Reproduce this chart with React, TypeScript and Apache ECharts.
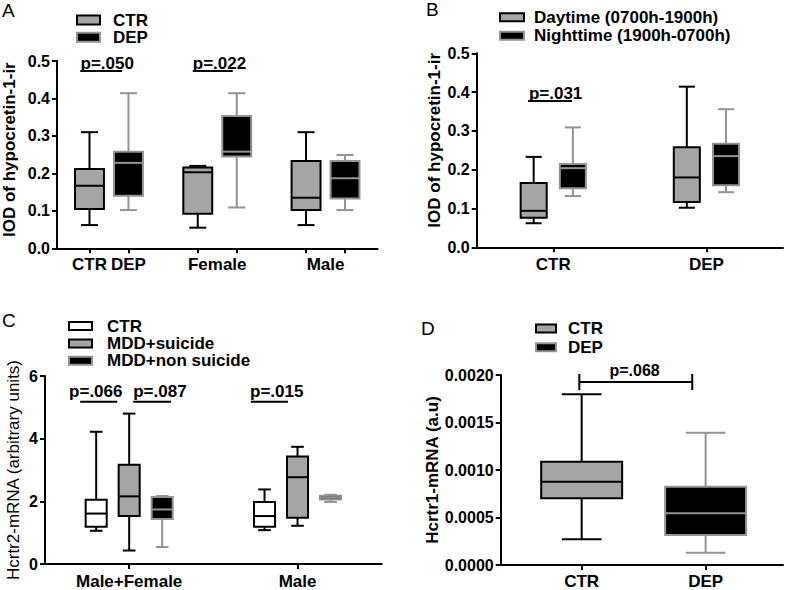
import React, { useEffect, useRef } from 'react';
import * as echarts from 'echarts';

const FONT = '"Liberation Sans", Arial, Helvetica, sans-serif';
const GRAY = '#a5a5a5';
const GRAY_LINE = '#939393';
const BLACK = '#000000';
const WHITE = '#ffffff';

// ---------- Panel A ----------
const aGroupPos = [1, 2, 3];
const aAxisLabels = ['CTR', 'DEP', 'Female', 'Male'];
// [min, Q1, median, Q3, max]
const aCtr = [
  [0.062, 0.105, 0.167, 0.212, 0.31],
  [0.055, 0.092, 0.203, 0.216, 0.22],
  [0.062, 0.102, 0.135, 0.233, 0.31],
];
const aDep = [
  [0.102, 0.14, 0.228, 0.258, 0.414],
  [0.109, 0.245, 0.258, 0.353, 0.414],
  [0.102, 0.133, 0.187, 0.233, 0.249],
];
// [x1, x2, y, textX, textY]
const aSig = [
  [0.735, 1.122, 0.473, 0.737, 0.492],
  [1.774, 2.143, 0.473, 1.774, 0.492],
];
const aSigText = ['p=.050', 'p=.022'];

// ---------- Panel B ----------
const bCategories = ['CTR', 'DEP'];
const bDay = [
  [0.062, 0.076, 0.094, 0.166, 0.233],
  [0.102, 0.117, 0.18, 0.258, 0.414],
];
const bNight = [
  [0.132, 0.152, 0.204, 0.215, 0.309],
  [0.142, 0.16, 0.235, 0.267, 0.356],
];
const bSig = [[0.835, 1.122, 0.377, 0.841, 0.396]];
const bSigText = ['p=.031'];

// ---------- Panel C ----------
const cCategories = ['Male+Female', 'Male'];
const cCtr = [
  [1.06, 1.19, 1.61, 2.05, 4.22],
  [1.08, 1.19, 1.53, 1.98, 2.38],
];
const cSuicide = [
  [0.43, 1.53, 2.16, 3.17, 4.8],
  [1.22, 1.48, 2.77, 3.43, 3.74],
];
const cNonSuicide = [
  [0.54, 1.44, 1.74, 2.14, 2.17],
  [1.98, 2.06, 2.12, 2.18, 2.21],
];
const cSig = [
  [0.709, 0.929, 5.18, 0.643, 5.5],
  [1.024, 1.249, 5.18, 1.024, 5.5],
  [1.723, 1.943, 5.18, 1.718, 5.5],
];
const cSigText = ['p=.066', 'p=.087', 'p=.015'];

// ---------- Panel D ----------
const dCategories = ['CTR', 'DEP'];
const dCtr = [0.000271, 0.000702, 0.000877, 0.001087, 0.001797];
const dDep = [0.000129, 0.000316, 0.000544, 0.000824, 0.001393];
const dSig = [[0.981, 1.892, 0.001926, 1.427, 0.002045]];
const dSigText = ['p=.068'];

const labelText = (positions: number[], texts: string[]) => (v: number) => {
  let best = 0;
  let bd = Infinity;
  positions.forEach((p, i) => {
    const d = Math.abs(p - v);
    if (d < bd) {
      bd = d;
      best = i;
    }
  });
  return bd < 1e-3 ? texts[best] : '';
};

const axisLine = { show: true, onZero: false, lineStyle: { color: BLACK, width: 2 } };
const tickStyle = { show: true, length: 5, lineStyle: { color: BLACK, width: 2 } };
const labelBase = { color: BLACK, fontSize: 16, fontWeight: 'bold', fontFamily: FONT };

function xAxis(gridIndex: number, min: number, max: number, tickVals: number[], labelVals: number[], texts: string[], margin: number) {
  return {
    type: 'value',
    gridIndex,
    min,
    max,
    splitLine: { show: false },
    axisLine,
    axisTick: { ...tickStyle, customValues: tickVals },
    axisLabel: { ...labelBase, fontSize: 17, margin, customValues: labelVals, formatter: labelText(labelVals, texts) },
  };
}

function yAxis(gridIndex: number, max: number, interval: number, decimals: number, name: string, nameGap: number, nameFont: any) {
  return {
    type: 'value',
    gridIndex,
    min: 0,
    max,
    interval,
    splitLine: { show: false },
    axisLine,
    axisTick: tickStyle,
    axisLabel: { ...labelBase, margin: 7, formatter: (v: number) => v.toFixed(decimals) },
    name,
    nameLocation: 'middle',
    nameGap,
    nameTextStyle: { color: BLACK, fontFamily: FONT, ...nameFont },
  };
}

function boxRender(boxW: number, capW: number, fill: string, stroke: string) {
  return (_params: any, api: any) => {
    const x = api.value(0);
    const c = (v: number) => api.coord([x, v]);
    const pMin = c(api.value(1));
    const pQ1 = c(api.value(2));
    const pMed = c(api.value(3));
    const pQ3 = c(api.value(4));
    const pMax = c(api.value(5));
    const cx = pMed[0];
    const bw = api.size([boxW, 0])[0];
    const cw = api.size([capW, 0])[0];
    const ls = { stroke, lineWidth: 2, fill: 'none' };
    return {
      type: 'group',
      children: [
        { type: 'line', shape: { x1: cx, y1: pMax[1], x2: cx, y2: pQ3[1] }, style: ls },
        { type: 'line', shape: { x1: cx, y1: pQ1[1], x2: cx, y2: pMin[1] }, style: ls },
        { type: 'line', shape: { x1: cx - cw / 2, y1: pMax[1], x2: cx + cw / 2, y2: pMax[1] }, style: ls },
        { type: 'line', shape: { x1: cx - cw / 2, y1: pMin[1], x2: cx + cw / 2, y2: pMin[1] }, style: ls },
        {
          type: 'rect',
          shape: { x: cx - bw / 2, y: pQ3[1], width: bw, height: pQ1[1] - pQ3[1] },
          style: { fill, stroke, lineWidth: 2 },
        },
        { type: 'line', shape: { x1: cx - bw / 2, y1: pMed[1], x2: cx + bw / 2, y2: pMed[1] }, style: ls },
      ],
    };
  };
}

function boxSeries(name: string, idx: number, data: number[][], positions: number[], boxW: number, capW: number, fill: string, stroke: string) {
  return {
    type: 'custom',
    name,
    xAxisIndex: idx,
    yAxisIndex: idx,
    encode: { x: 0, y: [1, 2, 3, 4, 5] },
    data: data.map((v, i) => [positions[i], ...v]),
    renderItem: boxRender(boxW, capW, fill, stroke),
    silent: true,
  };
}

function sigSeries(id: string, idx: number, data: number[][], texts: string[], align: string, fontSize: number, bracket: boolean) {
  return {
    type: 'custom',
    id,
    xAxisIndex: idx,
    yAxisIndex: idx,
    encode: { x: [0, 1, 3], y: [2, 4] },
    data,
    silent: true,
    renderItem: (params: any, api: any) => {
      const p1 = api.coord([api.value(0), api.value(2)]);
      const p2 = api.coord([api.value(1), api.value(2)]);
      const pt = api.coord([api.value(3), api.value(4)]);
      const ls = { stroke: BLACK, lineWidth: 2 };
      const children: any[] = [
        { type: 'line', shape: { x1: p1[0], y1: p1[1], x2: p2[0], y2: p2[1] }, style: ls },
        {
          type: 'text',
          x: pt[0],
          y: pt[1],
          style: {
            text: texts[params.dataIndex],
            fill: BLACK,
            fontSize,
            fontWeight: 'bold',
            fontFamily: FONT,
            align,
            verticalAlign: 'middle',
          },
        },
      ];
      if (bracket) {
        children.push(
          { type: 'line', shape: { x1: p1[0], y1: p1[1] - 8, x2: p1[0], y2: p1[1] + 8 }, style: ls },
          { type: 'line', shape: { x1: p2[0], y1: p2[1] - 8, x2: p2[0], y2: p2[1] + 8 }, style: ls }
        );
      }
      return { type: 'group', children };
    },
  };
}

function legend(left: number, top: number, itemWidth: number, itemHeight: number, lineHeight: number, gap: number, textPad: number, items: { name: string; fill: string; stroke: string }[]) {
  return {
    orient: 'vertical',
    left,
    top,
    padding: 0,
    itemWidth,
    itemHeight,
    itemGap: gap,
    icon: 'rect',
    selectedMode: false,
    textStyle: { color: BLACK, fontSize: 17, fontWeight: 'bold', fontFamily: FONT, lineHeight, padding: [0, 0, 0, textPad] },
    data: items.map((it) => ({ name: it.name, itemStyle: { color: it.fill, borderColor: it.stroke, borderWidth: 2 } })),
  };
}

const letter = (text: string, left: number, top: number) => ({
  text,
  left,
  top,
  padding: 0,
  textStyle: { fontSize: 19, fontWeight: 'normal', fontFamily: FONT, color: BLACK },
});

export default function App() {
  const ref = useRef<HTMLDivElement>(null);

  useEffect(() => {
    if (!ref.current) return;
    const chart = echarts.init(ref.current, undefined, { renderer: 'svg' });

    const aOff = 0.18;
    const aCtrPos = aGroupPos.map((g) => g - aOff);
    const aDepPos = aGroupPos.map((g) => g + aOff);
    const aTicks = [...aCtrPos, ...aDepPos].sort((p, q) => p - q);
    const aLabelPos = [aCtrPos[0], aDepPos[0], aGroupPos[1], aGroupPos[2]];

    const bPos = bCategories.map((_, i) => i + 1);
    const bOff = 0.128;
    const cPos = cCategories.map((_, i) => i + 1);
    const cOff = 0.196;
    const dPos = dCategories.map((_, i) => i + 1);

    const titleA = { fontSize: 17, fontWeight: 'bold', padding: [0, 0, 0, 10] };
    const titleB = { fontSize: 17, fontWeight: 'bold', padding: [0, 0, 0, 20] };

    chart.setOption({
      animation: false,
      backgroundColor: WHITE,
      textStyle: { fontFamily: FONT },
      title: [letter('A', 2, 1), letter('B', 426, 0), letter('C', 2, 311), letter('D', 421, 319)],
      legend: [
        legend(76, 11.5, 23, 9, 15, 0.3, 8, [
          { name: 'CTR', fill: GRAY, stroke: BLACK },
          { name: 'DEP', fill: BLACK, stroke: GRAY_LINE },
        ]),
        legend(499, 8.7, 24, 8, 16, 1.6, 5, [
          { name: 'Daytime (0700h-1900h)', fill: GRAY, stroke: BLACK },
          { name: 'Nighttime (1900h-0700h)', fill: BLACK, stroke: GRAY_LINE },
        ]),
        legend(68, 317.5, 23, 8, 16, 0.4, 10, [
          { name: 'CTR', fill: WHITE, stroke: BLACK },
          { name: 'MDD+suicide', fill: GRAY, stroke: BLACK },
          { name: 'MDD+non suicide', fill: BLACK, stroke: GRAY_LINE },
        ]),
        legend(535, 320, 20, 8, 16, 1.7, 7, [
          { name: 'CTR', fill: GRAY, stroke: BLACK },
          { name: 'DEP', fill: BLACK, stroke: GRAY_LINE },
        ]),
      ],
      grid: [
        { left: 56, top: 61, width: 321.5, height: 187.3 },
        { left: 476.7, top: 53.3, width: 306.3, height: 194 },
        { left: 45, top: 376, width: 336.7, height: 190 },
        { left: 500.7, top: 375, width: 282.3, height: 190 },
      ],
      xAxis: [
        xAxis(0, 0.52, 3.48, aTicks, aLabelPos, aAxisLabels, 8),
        xAxis(1, 0.5, 2.5, bPos, bPos, bCategories, 9),
        xAxis(2, 0.5, 2.5, cPos, cPos, cCategories, 9),
        xAxis(3, 0.347, 2.624, dPos, dPos, dCategories, 8),
      ],
      yAxis: [
        yAxis(0, 0.5, 0.1, 1, 'IOD of hypocretin-1-ir', 39, titleA),
        yAxis(1, 0.5, 0.1, 1, 'IOD of hypocretin-1-ir', 34, titleB),
        yAxis(2, 6, 2, 0, 'Hcrtr2-mRNA (arbitrary units)', 23, { fontSize: 17, fontWeight: 'normal' }),
        yAxis(3, 0.002, 0.0005, 4, 'Hcrtr1-mRNA (a.u)', 60, { fontSize: 17, fontWeight: 'bold' }),
      ],
      series: [
        boxSeries('CTR', 0, aCtr, aCtrPos, 0.267, 0.157, GRAY, BLACK),
        boxSeries('DEP', 0, aDep, aDepPos, 0.267, 0.157, BLACK, GRAY_LINE),
        sigSeries('sigA', 0, aSig, aSigText, 'left', 17, false),

        boxSeries('Daytime (0700h-1900h)', 1, bDay, bPos.map((p) => p - bOff), 0.17, 0.105, GRAY, BLACK),
        boxSeries('Nighttime (1900h-0700h)', 1, bNight, bPos.map((p) => p + bOff), 0.17, 0.105, BLACK, GRAY_LINE),
        sigSeries('sigB', 1, bSig, bSigText, 'left', 17, false),

        boxSeries('CTR', 2, cCtr, cPos.map((p) => p - cOff), 0.125, 0.075, WHITE, BLACK),
        boxSeries('MDD+suicide', 2, cSuicide, cPos, 0.125, 0.075, GRAY, BLACK),
        boxSeries('MDD+non suicide', 2, cNonSuicide, cPos.map((p) => p + cOff), 0.125, 0.075, BLACK, GRAY_LINE),
        sigSeries('sigC', 2, cSig, cSigText, 'left', 17, false),

        boxSeries('CTR', 3, [dCtr], [dPos[0]], 0.653, 0.32, GRAY, BLACK),
        boxSeries('DEP', 3, [dDep], [dPos[1]], 0.653, 0.32, BLACK, GRAY_LINE),
        sigSeries('sigD', 3, dSig, dSigText, 'center', 16, true),
      ],
    });

    return () => chart.dispose();
  }, []);

  return (
    <div
      ref={ref}
      style={{ position: 'absolute', left: 0, top: 0, width: 790, height: 590, background: '#fff' }}
    />
  );
}
